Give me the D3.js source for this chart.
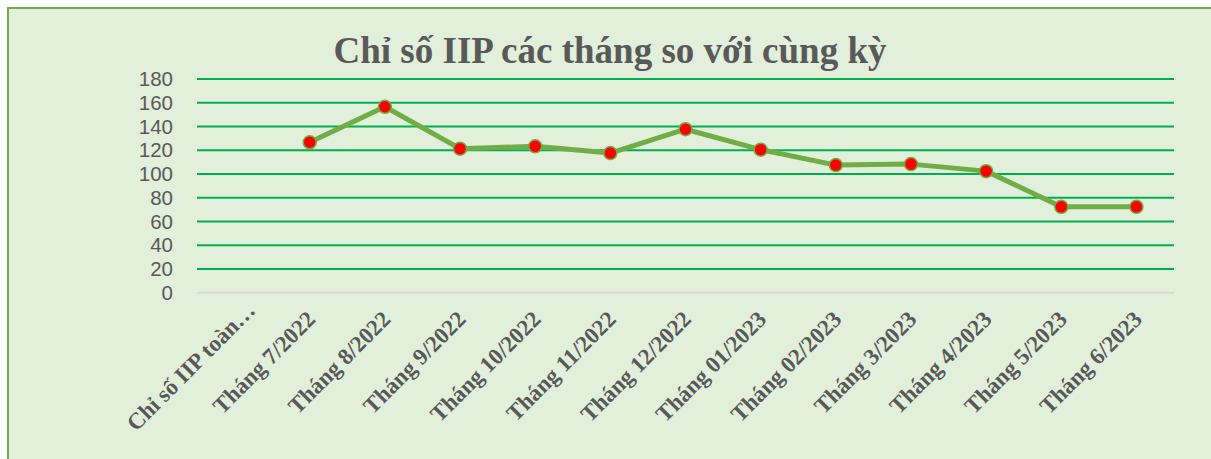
<!DOCTYPE html>
<html>
<head>
<meta charset="utf-8">
<script src="https://cdn.jsdelivr.net/npm/d3@7"></script>
<style>
  html, body { margin: 0; padding: 0; background: #fff; overflow: hidden; }
</style>
</head>
<body>
<div id="chart"></div>
<script>
// Dữ liệu biểu đồ
const categories = [
    "Chỉ số IIP toàn…", "Tháng 7/2022", "Tháng 8/2022", "Tháng 9/2022",
    "Tháng 10/2022", "Tháng 11/2022", "Tháng 12/2022", "Tháng 01/2023",
    "Tháng 02/2023", "Tháng 3/2023", "Tháng 4/2023", "Tháng 5/2023", "Tháng 6/2023"
];
const iipValues = [null, 126.7, 156.6, 121.3, 123.3, 117.6, 137.7, 120.5, 107.5, 108.3, 102.4, 72.3, 72.3];
const yTicks = [0, 20, 40, 60, 80, 100, 120, 140, 160, 180];
const chartTitle = "Chỉ số IIP các tháng so với cùng kỳ";

const width = 1211, height = 459;
const margin = { top: 79, right: 37, bottom: 167, left: 197 };

const svg = d3.select("#chart")
    .append("svg")
    .attr("width", width)
    .attr("height", height);

// Khung nền
svg.append("rect")
    .attr("x", 8)
    .attr("y", 8)
    .attr("width", width + 20)
    .attr("height", height + 20)
    .attr("fill", "#E2EFDA")
    .attr("stroke", "#70AD47")
    .attr("stroke-width", 2);

const x = d3.scaleBand()
    .domain(categories)
    .range([margin.left, width - margin.right]);

const y = d3.scaleLinear()
    .domain([0, 180])
    .range([height - margin.bottom + 0.7, margin.top]);

// Tiêu đề
svg.append("text")
    .attr("x", 610)
    .attr("y", 63)
    .attr("text-anchor", "middle")
    .attr("font-family", "'Liberation Serif', 'Times New Roman', serif")
    .attr("font-weight", "bold")
    .attr("font-size", "37px")
    .attr("fill", "#595959")
    .text(chartTitle);

// Lưới ngang
svg.append("g")
    .selectAll("line")
    .data(yTicks)
    .join("line")
    .attr("x1", margin.left)
    .attr("x2", width - margin.right)
    .attr("y1", d => y(d))
    .attr("y2", d => y(d))
    .attr("stroke", d => d === 0 ? "#D9D9D9" : "#00B050")
    .attr("stroke-width", 2);

// Trục tung
const yAxis = svg.append("g")
    .attr("transform", `translate(${margin.left - 24},0)`)
    .call(d3.axisLeft(y).tickValues(yTicks).tickSize(0).tickPadding(0));
yAxis.select(".domain").remove();
yAxis.selectAll("text")
    .attr("font-family", "'Liberation Sans', Arial, sans-serif")
    .attr("font-size", "20.5px")
    .attr("fill", "#595959");

// Trục hoành
const xAxis = svg.append("g")
    .attr("transform", `translate(0,${y(0)})`)
    .call(d3.axisBottom(x).tickSize(0).tickPadding(0));
xAxis.select(".domain").remove();
xAxis.selectAll("text")
    .attr("font-family", "'Liberation Serif', 'Times New Roman', serif")
    .attr("font-weight", "bold")
    .attr("font-size", "23px")
    .attr("fill", "#595959")
    .attr("text-anchor", "end")
    .attr("dy", 0)
    .attr("transform", (d, i) => i === 0 ? "translate(22,19) rotate(-45)" : "translate(7,28) rotate(-45)");

// Đường dữ liệu
const points = categories.map((c, i) => ({ cat: c, value: iipValues[i] }))
    .filter(d => d.value !== null);

const line = d3.line()
    .x(d => x(d.cat) + x.bandwidth() / 2)
    .y(d => y(d.value));

svg.append("path")
    .datum(points)
    .attr("d", line)
    .attr("fill", "none")
    .attr("stroke", "#70AD47")
    .attr("stroke-width", 5)
    .attr("stroke-linejoin", "round");

svg.append("g")
    .selectAll("circle")
    .data(points)
    .join("circle")
    .attr("cx", d => x(d.cat) + x.bandwidth() / 2)
    .attr("cy", d => y(d.value))
    .attr("r", 6.5)
    .attr("fill", "#FF0000")
    .attr("stroke", "#70AD47")
    .attr("stroke-width", 1.5);
</script>
</body>
</html>
